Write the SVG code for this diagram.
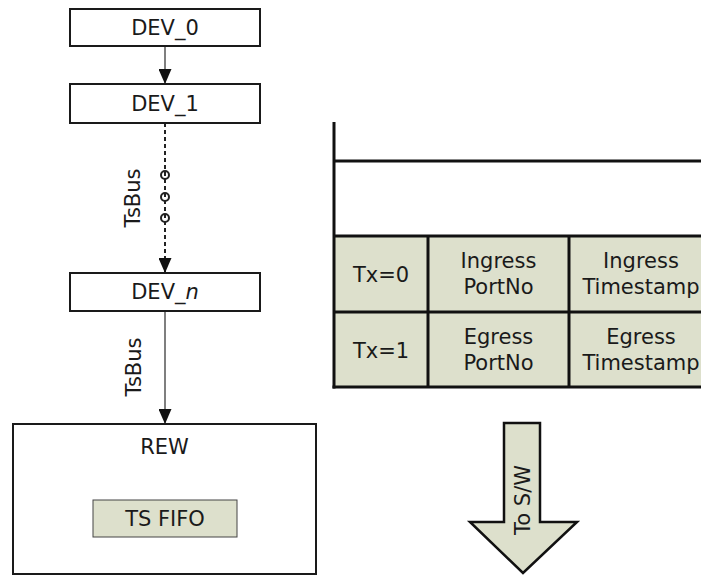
<svg xmlns="http://www.w3.org/2000/svg" width="701" height="575" viewBox="0 0 701 575">
<defs>
<style>
text{font-family:"DejaVu Sans","Verdana","Liberation Sans",sans-serif;font-size:21px;fill:#1a1a1a}
.c{text-anchor:middle}
.box{fill:#fff;stroke:#1a1a1a;stroke-width:2}
.cell{fill:#dde0cc;stroke:none}
.tl{stroke:#111;stroke-width:3;fill:none}
.conn{stroke:#555;stroke-width:1.5;fill:none}
.dash{stroke:#222;stroke-width:2;fill:none;stroke-dasharray:4 3}
.dot{fill:none;stroke:#222;stroke-width:2}
</style>
<marker id="ah2" viewBox="0 0 15 13" refX="15" refY="6.5" markerWidth="15" markerHeight="13" markerUnits="userSpaceOnUse" orient="auto">
<path d="M0,0 L15,6.5 L0,13 Z" fill="#111"/>
</marker>
</defs>
<rect width="701" height="575" fill="#fff"/>

<g id="connectors">
<line class="conn" x1="165" y1="46" x2="165" y2="84" marker-end="url(#ah2)"/>
<line class="dash" x1="165" y1="123" x2="165" y2="273" marker-end="url(#ah2)"/>
<circle class="dot" cx="165" cy="175" r="4"/>
<circle class="dot" cx="165" cy="197" r="4"/>
<circle class="dot" cx="165" cy="218" r="4"/>
<text class="c" transform="translate(140,198) rotate(-90)">TsBus</text>
<line class="conn" x1="165" y1="311" x2="165" y2="424" marker-end="url(#ah2)"/>
<text class="c" transform="translate(141,367) rotate(-90)">TsBus</text>
</g>

<g id="dev0">
<rect class="box" x="70" y="9" width="190" height="37"/>
<text class="c" x="165" y="35">DEV_0</text>
</g>
<g id="dev1">
<rect class="box" x="70" y="84" width="190" height="39"/>
<text class="c" x="165" y="111">DEV_1</text>
</g>
<g id="devn">
<rect class="box" x="70" y="273" width="190" height="38"/>
<text class="c" x="165" y="299">DEV_<tspan font-style="italic">n</tspan></text>
</g>
<g id="rew">
<rect class="box" x="13" y="424" width="303" height="150"/>
<text class="c" x="164.5" y="454">REW</text>
<rect x="93" y="500" width="144" height="37" fill="#dde0cc" stroke="#444" stroke-width="1"/>
<text class="c" x="165" y="526">TS FIFO</text>
</g>

<g id="table">
<rect class="cell" x="334" y="236" width="380" height="151"/>
<line class="tl" x1="334" y1="122" x2="334" y2="388.5"/>
<line class="tl" x1="334" y1="161" x2="705" y2="161"/>
<line class="tl" x1="334" y1="236" x2="705" y2="236"/>
<line class="tl" x1="334" y1="312" x2="705" y2="312"/>
<line class="tl" x1="332.5" y1="387" x2="705" y2="387"/>
<line class="tl" x1="428" y1="236" x2="428" y2="387"/>
<line class="tl" x1="569" y1="236" x2="569" y2="387"/>
<text class="c" x="381" y="282">Tx=0</text>
<text class="c" x="498.5" y="268">Ingress</text>
<text class="c" x="498.5" y="294">PortNo</text>
<text class="c" x="641" y="268">Ingress</text>
<text class="c" x="641" y="294">Timestamp</text>
<text class="c" x="381" y="358">Tx=1</text>
<text class="c" x="498.5" y="344">Egress</text>
<text class="c" x="498.5" y="370">PortNo</text>
<text class="c" x="641" y="344">Egress</text>
<text class="c" x="641" y="370">Timestamp</text>
</g>

<g id="to-sw">
<path d="M504,423 L540,423 L540,522 L577,522 L523,573 L470,522 L504,522 Z" fill="#dde0cc" stroke="#111" stroke-width="2.5" stroke-linejoin="miter"/>
<text class="c" transform="translate(530,500) rotate(-90)">To S/W</text>
</g>
</svg>
